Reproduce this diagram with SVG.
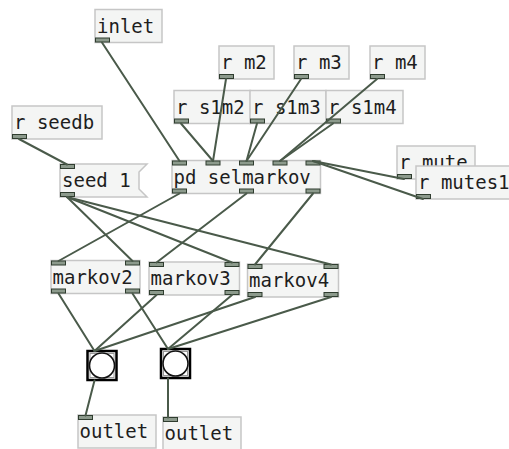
<svg xmlns="http://www.w3.org/2000/svg" width="509" height="449" viewBox="0 0 509 449">
<defs>
<style>
.box{fill:#f4f5f4;stroke:#c6c6c6;stroke-width:1.5}
.t{font-family:"DejaVu Sans Mono","Liberation Mono",monospace;font-size:19px;fill:#1e1e1e}
.nub{fill:#8c9a8c;stroke:#2f3d2f;stroke-width:1}
.c line{stroke:#4a5a4a;stroke-width:2;stroke-linecap:round}
.bng{fill:#fff;stroke:#000;stroke-width:2.5}
.bin{fill:none;stroke:#999;stroke-width:1}
.bc{fill:#fff;stroke:#111;stroke-width:1.6}
</style>
</defs>
<rect width="509" height="449" fill="#fff"/>

<g id="inlet"><rect class="box" x="95" y="9.5" width="67" height="33"/><text class="t" x="97" y="32.5">inlet</text><rect class="nub" x="95.5" y="38" width="14" height="4"/></g>

<g id="r_m2"><rect class="box" x="219" y="46" width="55" height="33"/><text class="t" x="221" y="69">r m2</text><rect class="nub" x="219.5" y="74.5" width="14" height="4"/></g>
<g id="r_m3"><rect class="box" x="294" y="46" width="55" height="33"/><text class="t" x="296" y="69">r m3</text><rect class="nub" x="294.5" y="74.5" width="14" height="4"/></g>
<g id="r_m4"><rect class="box" x="370" y="46" width="55" height="33"/><text class="t" x="372" y="69">r m4</text><rect class="nub" x="370.5" y="74.5" width="14" height="4"/></g>

<g id="r_s1m2"><rect class="box" x="174" y="90.5" width="76.5" height="33"/><text class="t" x="176" y="113.5">r s1m2</text><rect class="nub" x="174.5" y="119" width="14" height="4"/></g>
<g id="r_s1m3"><rect class="box" x="250" y="90.5" width="76" height="33"/><text class="t" x="252" y="113.5">r s1m3</text><rect class="nub" x="250.5" y="119" width="14" height="4"/></g>
<g id="r_s1m4"><rect class="box" x="326" y="90.5" width="77" height="33"/><text class="t" x="328" y="113.5">r s1m4</text><rect class="nub" x="326.5" y="119" width="14" height="4"/></g>

<g id="r_seedb"><rect class="box" x="12" y="106" width="90" height="33"/><text class="t" x="14" y="129">r seedb</text><rect class="nub" x="12.5" y="134.5" width="14" height="4"/></g>

<g id="pd_selmarkov"><rect class="box" x="172" y="160.5" width="148.5" height="33"/><text class="t" x="173.5" y="183.5">pd selmarkov</text>
<rect class="nub" x="172.5" y="161" width="14" height="4"/><rect class="nub" x="206" y="161" width="14" height="4"/><rect class="nub" x="239.5" y="161" width="14" height="4"/><rect class="nub" x="273" y="161" width="14" height="4"/><rect class="nub" x="306" y="161" width="14" height="4"/>
<rect class="nub" x="172.5" y="189" width="14" height="4"/><rect class="nub" x="239.5" y="189" width="14" height="4"/><rect class="nub" x="306" y="189" width="14" height="4"/></g>

<g id="r_mute"><rect class="box" x="397" y="146" width="78" height="33"/><text class="t" x="399" y="169">r mute</text><rect class="nub" x="397.5" y="174.5" width="14" height="4"/></g>
<g id="r_mutes1"><rect class="box" x="416" y="166" width="101" height="33"/><text class="t" x="418" y="189">r mutes1</text><rect class="nub" x="416.5" y="194.5" width="14" height="4"/></g>

<g id="seed_1"><polygon class="box" points="60,164 147,164 139,172 139,189 147,197 60,197"/><text class="t" x="62" y="187">seed 1</text><rect class="nub" x="60.5" y="164.5" width="14" height="4"/><rect class="nub" x="60.5" y="192.5" width="14" height="4"/></g>

<g id="markov2"><rect class="box" x="51" y="260.5" width="89" height="33"/><text class="t" x="52.5" y="283.5">markov2</text><rect class="nub" x="51.5" y="261" width="14" height="4"/><rect class="nub" x="125.5" y="261" width="14" height="4"/><rect class="nub" x="51.5" y="289" width="14" height="4"/><rect class="nub" x="125.5" y="289" width="14" height="4"/></g>
<g id="markov3"><rect class="box" x="149" y="262" width="90.5" height="33"/><text class="t" x="150.5" y="285">markov3</text><rect class="nub" x="149.5" y="262.5" width="14" height="4"/><rect class="nub" x="225" y="262.5" width="14" height="4"/><rect class="nub" x="149.5" y="290.5" width="14" height="4"/><rect class="nub" x="225" y="290.5" width="14" height="4"/></g>
<g id="markov4"><rect class="box" x="247.5" y="264" width="91" height="33"/><text class="t" x="249" y="287">markov4</text><rect class="nub" x="248" y="264.5" width="14" height="4"/><rect class="nub" x="324" y="264.5" width="14" height="4"/><rect class="nub" x="248" y="292.5" width="14" height="4"/><rect class="nub" x="324" y="292.5" width="14" height="4"/></g>

<g id="bang1"><rect class="bng" x="87.5" y="351" width="29" height="29"/><rect class="bin" x="90" y="353.5" width="24" height="24"/><circle class="bc" cx="102" cy="365.5" r="12.5"/></g>
<g id="bang2"><rect class="bng" x="161" y="349" width="29" height="29"/><rect class="bin" x="163.5" y="351.5" width="24" height="24"/><circle class="bc" cx="175.5" cy="363.5" r="12.5"/></g>

<g id="outlet1"><rect class="box" x="78" y="415" width="78" height="33"/><text class="t" x="79.5" y="438">outlet</text><rect class="nub" x="78.5" y="415.5" width="14" height="4"/></g>
<g id="outlet2"><rect class="box" x="163" y="417" width="78" height="33"/><text class="t" x="164.5" y="440">outlet</text><rect class="nub" x="163.5" y="417.5" width="14" height="4"/></g>

<g id="connectors" class="c">
<line x1="102" y1="42.5" x2="179.5" y2="161"/>
<line x1="226" y1="79" x2="213" y2="161"/>
<line x1="181" y1="123.5" x2="213" y2="161"/>
<line x1="301" y1="79" x2="246.5" y2="161"/>
<line x1="257" y1="123.5" x2="246.5" y2="161"/>
<line x1="377" y1="79" x2="280" y2="161"/>
<line x1="333" y1="123.5" x2="280" y2="161"/>
<line x1="404" y1="179" x2="313" y2="161"/>
<line x1="423" y1="199" x2="313" y2="161"/>
<line x1="19" y1="139" x2="67" y2="164.5"/>
<line x1="67" y1="197" x2="132.5" y2="261"/>
<line x1="67" y1="197" x2="232" y2="262.5"/>
<line x1="67" y1="197" x2="331" y2="264.5"/>
<line x1="179.5" y1="193.5" x2="58.5" y2="261"/>
<line x1="246.5" y1="193.5" x2="156.5" y2="262.5"/>
<line x1="313" y1="193.5" x2="255" y2="264.5"/>
<line x1="58.5" y1="293.5" x2="94.5" y2="351"/>
<line x1="132.5" y1="293.5" x2="168" y2="349"/>
<line x1="156.5" y1="295" x2="94.5" y2="351"/>
<line x1="232" y1="295" x2="168" y2="349"/>
<line x1="255" y1="297" x2="94.5" y2="351"/>
<line x1="331" y1="297" x2="168" y2="349"/>
<line x1="94.5" y1="380.5" x2="85.5" y2="415.5"/>
<line x1="168" y1="378.5" x2="168" y2="417.5"/>
</g>
</svg>
